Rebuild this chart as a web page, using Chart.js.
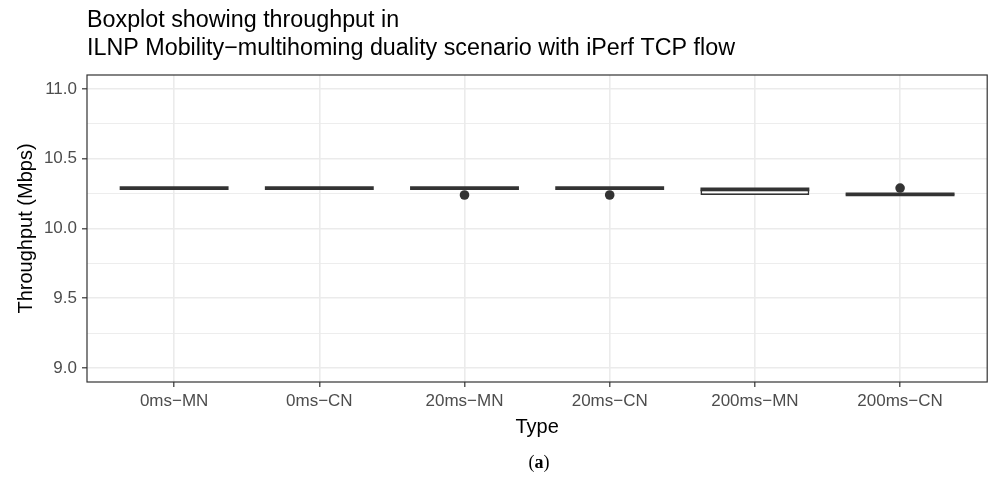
<!DOCTYPE html>
<html lang="en">
<head>
    <meta charset="UTF-8">
    <title>Boxplot throughput</title>
    <script src="https://cdn.jsdelivr.net/npm/chart.js"></script>
</head>
<style>
    body{
        margin: 0;
        background: white;
    }
    .wrap{
        position: relative;
        width: 992px;
        height: 491px;
    }
    .caption{
        position: absolute;
        left: 0;
        width: 1078px;
        top: 452px;
        text-align: center;
        font-family: "Liberation Serif", "DejaVu Serif", serif;
        font-size: 18px;
        color: black;
    }
</style>
<body>
    <div class="wrap">
        <canvas id="box" width="992" height="491"></canvas>
        <div class="caption">(<b>a</b>)</div>
    </div>
</body>
</html>

<script>
    // categories and box statistics (Mbps)
    let types = ['0ms−MN', '0ms−CN', '20ms−MN', '20ms−CN', '200ms−MN', '200ms−CN'];
    let q1 = [10.29, 10.29, 10.29, 10.29, 10.24, 10.24];
    let median = [10.29, 10.29, 10.29, 10.29, 10.28, 10.245];
    let q3 = [10.29, 10.29, 10.29, 10.29, 10.28, 10.25];
    // outliers: index of type + value
    let outlierType = [2, 3, 5];
    let outlierValue = [10.24, 10.24, 10.29];

    let titleLines = ['Boxplot showing throughput in', 'ILNP Mobility−multihoming duality scenario with iPerf TCP flow'];

    let sans = "'Liberation Sans', Arial, Helvetica, sans-serif";
    let dark = '#333333';

    let panel = {
        id: 'panel',
        afterDraw(chart){
            let ctx = chart.ctx;
            let a = chart.chartArea;
            ctx.save();
            ctx.strokeStyle = dark;
            ctx.lineWidth = 1.2;
            ctx.strokeRect(a.left, a.top, a.right - a.left, a.bottom - a.top);
            ctx.fillStyle = 'black';
            ctx.font = '23.3px ' + sans;
            ctx.textBaseline = 'alphabetic';
            ctx.textAlign = 'left';
            ctx.fillText(titleLines[0], a.left, 27);
            ctx.fillText(titleLines[1], a.left, 55);
            ctx.restore();
        }
    };

    let halfBox = (c) => {
        let x = c.chart.scales.x;
        return Math.abs(x.getPixelForValue(0.375) - x.getPixelForValue(0));
    };

    new Chart(document.getElementById('box'), {
        type: 'bar',
        data: {
            datasets: [{
                type: 'scatter',
                label: 'median',
                data: median.map((v, i) => ({x: i, y: v})),
                pointStyle: 'line',
                pointRadius: halfBox,
                pointBorderWidth: 3.8,
                pointBorderColor: dark,
                order: 1
            },
            {
                type: 'scatter',
                label: 'outliers',
                data: outlierValue.map((v, i) => ({x: outlierType[i], y: v})),
                pointStyle: 'circle',
                pointRadius: 4.8,
                pointBackgroundColor: dark,
                pointBorderColor: dark,
                pointBorderWidth: 0,
                order: 0
            },
            {
                label: 'box',
                data: q1.map((v, i) => ({x: i, y: [v, q3[i]]})),
                backgroundColor: 'white',
                borderColor: dark,
                borderWidth: 1.7,
                borderSkipped: false,
                categoryPercentage: 1,
                barPercentage: 0.75,
                order: 2
            }]
        },
        options: {
            responsive: false,
            animation: false,
            events: [],
            layout: {
                padding: {top: 75, right: 1, bottom: 40, left: 0}
            },
            scales: {
                x: {
                    type: 'linear',
                    min: -0.6,
                    max: 5.6,
                    offset: false,
                    afterFit: (s) => { s.height = 69; },
                    ticks: {
                        stepSize: 1,
                        includeBounds: false,
                        maxRotation: 0,
                        autoSkip: false,
                        padding: 4,
                        color: '#4d4d4d',
                        font: {family: sans, size: 17},
                        callback: (v) => types[v]
                    },
                    grid: {
                        offset: false,
                        color: '#ebebeb',
                        lineWidth: 1.6,
                        tickLength: 5,
                        tickColor: dark,
                        tickWidth: 1.2
                    },
                    border: {display: false},
                    title: {
                        display: true,
                        text: 'Type',
                        color: 'black',
                        font: {family: sans, size: 20},
                        padding: {top: 0, bottom: 12}
                    }
                },
                y: {
                    min: 8.9,
                    max: 11.1,
                    afterFit: (s) => { s.width = 87; },
                    ticks: {
                        stepSize: 0.25,
                        includeBounds: false,
                        padding: 5,
                        color: '#4d4d4d',
                        font: {family: sans, size: 17},
                        callback: (v) => (Math.abs(v * 2 - Math.round(v * 2)) < 1e-6 ? v.toFixed(1) : '')
                    },
                    grid: {
                        color: '#ebebeb',
                        lineWidth: (c) => (c.tick && Math.abs(c.tick.value * 2 - Math.round(c.tick.value * 2)) < 1e-6 ? 1.6 : 0.9),
                        tickLength: 5,
                        tickColor: (c) => (c.tick && Math.abs(c.tick.value * 2 - Math.round(c.tick.value * 2)) < 1e-6 ? dark : 'rgba(0,0,0,0)'),
                        tickWidth: 1.2
                    },
                    border: {display: false},
                    title: {
                        display: true,
                        text: 'Throughput (Mbps)',
                        color: 'black',
                        font: {family: sans, size: 20},
                        padding: {top: 14, bottom: 0}
                    }
                }
            },
            plugins: {
                legend: {display: false},
                tooltip: {enabled: false}
            }
        },
        plugins: [panel]
    });
</script>
